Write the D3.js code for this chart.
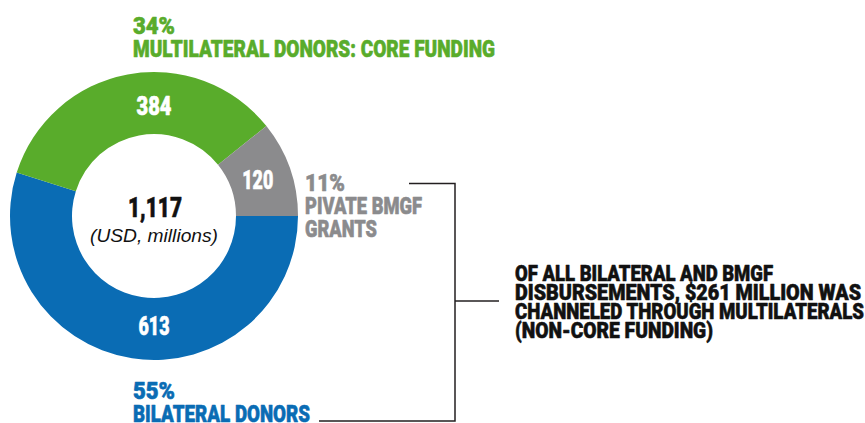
<!DOCTYPE html>
<html>
<head>
<meta charset="utf-8">
<script src="https://cdn.jsdelivr.net/npm/d3@7"></script>
<style>
  html, body { margin: 0; padding: 0; background: #fff; }
  svg { display: block; }
  .cond { font-family: "Roboto", "Lato", "Liberation Sans", sans-serif; font-weight: 900; stroke-width: 0.6; stroke-linejoin: round; }
</style>
</head>
<body>
<svg id="chart" width="865" height="423"></svg>
<script>
// ---- data ----
const categories = ["BILATERAL DONORS", "MULTILATERAL DONORS: CORE FUNDING", "PIVATE BMGF GRANTS"];
const values = [613, 384, 120];
const percentLabels = ["55%", "34%", "11%"];
const colors = ["#0a6cb4", "#59ac2b", "#8b8b8d"];
const totalLabel = "1,117";
const unitLabel = "(USD, millions)";
const noteLines = [
  "OF ALL BILATERAL AND BMGF",
  "DISBURSEMENTS, $261 MILLION WAS",
  "CHANNELED THROUGH MULTILATERALS",
  "(NON-CORE FUNDING)"
];

// ---- layout ----
const cx = 154, cy = 216, outerR = 144, innerR = 82, labelR = 110;
const svg = d3.select("#chart");
const g = svg.append("g").attr("transform", `translate(${cx},${cy})`);

// condensed look: squeeze glyphs horizontally to the widths seen in the reference
function fit(sel, w) { if (w) sel.attr("textLength", w).attr("lengthAdjust", "spacingAndGlyphs"); return sel; }

const pie = d3.pie().sort(null).startAngle(Math.PI / 2).endAngle(Math.PI / 2 + 2 * Math.PI);
const arcs = pie(values);
const arc = d3.arc().innerRadius(innerR).outerRadius(outerR);

g.selectAll("path.slice").data(arcs).enter().append("path")
  .attr("class", "slice")
  .attr("d", arc)
  .attr("fill", (d, i) => colors[i]);

// value labels inside ring (blue at bottom, green at top, grey at centroid)
const labelAngleOverride = [Math.PI, 0, null];
const valueLabelWidths = [31, 35, 31];
g.selectAll("text.val").data(arcs).enter().append("text")
  .attr("class", "val cond")
  .attr("text-anchor", "middle")
  .attr("dy", "0.36em")
  .attr("font-size", 25)
  .attr("fill", "#fff").attr("stroke", "#fff")
  .attr("transform", (d, i) => {
    const a = labelAngleOverride[i] !== null ? labelAngleOverride[i] : (d.startAngle + d.endAngle) / 2;
    return `translate(${labelR * Math.sin(a)},${-labelR * Math.cos(a)})`;
  })
  .text(d => d.value)
  .each(function (d, i) { fit(d3.select(this), valueLabelWidths[i]); });

// center text
fit(g.append("text").attr("class", "cond").attr("text-anchor", "middle")
  .attr("x", 1).attr("y", 1).attr("font-size", 28).attr("fill", "#111").attr("stroke", "#111")
  .text(totalLabel), 54);
fit(g.append("text").attr("text-anchor", "middle")
  .attr("x", 0).attr("y", 26).attr("font-size", 18).attr("fill", "#111")
  .style("font-family", "'Liberation Sans', Arial, sans-serif").style("font-style", "italic")
  .text(unitLabel), 128);

// category labels
function catLabel(lines, x, ys, color, size, widths) {
  lines.forEach((t, k) => {
    const s = svg.append("text").attr("class", "cond").attr("x", x).attr("y", ys[k])
      .attr("font-size", size).attr("fill", color).attr("stroke", color).text(t);
    fit(s, widths[k]);
  });
}
catLabel([percentLabels[1], categories[1]], 133, [34, 57], colors[1], 24, [42, 362]);
catLabel([percentLabels[2], "PIVATE BMGF", "GRANTS"], 305, [191, 214, 237], colors[2], 24, [40, 117, 72]);
catLabel([percentLabels[0], categories[0]], 133, [399, 422], colors[0], 24, [42, 177]);

// note
const noteWidths = [258, 346, 349, 198];
noteLines.forEach((t, k) => {
  const s = svg.append("text").attr("class", "cond").attr("x", 515).attr("y", 281 + k * 19)
    .attr("font-size", 22.5).attr("fill", "#111").attr("stroke", "#111").text(t);
  fit(s, noteWidths[k]);
});

// bracket
const bx = 455;
svg.append("path")
  .attr("d", `M409,183.5 H${bx} V421 H319`)
  .attr("fill", "none").attr("stroke", "#231f20").attr("stroke-width", 1.5);
svg.append("path")
  .attr("d", `M${bx},301 H499`)
  .attr("fill", "none").attr("stroke", "#231f20").attr("stroke-width", 1.5);
</script>
</body>
</html>
